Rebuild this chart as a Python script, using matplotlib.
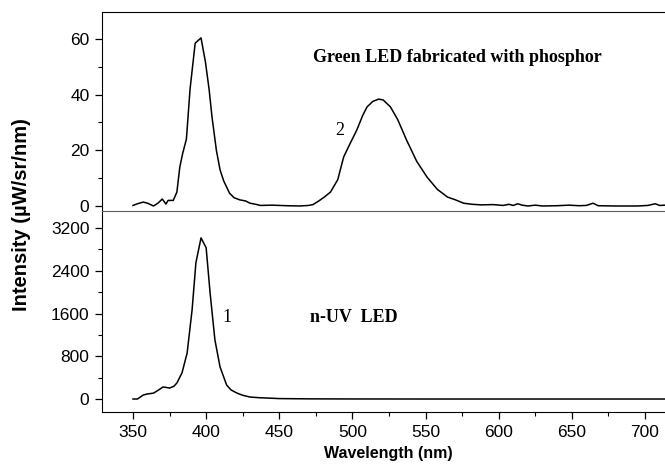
# -*- coding: utf-8 -*-
# Espectros de emissão: LED verde com fósforo (acima) e LED n-UV (abaixo)
import numpy as np
from matplotlib import pyplot as plt
from matplotlib.ticker import MultipleLocator

# Curva 2: LED verde fabricado com fósforo (uW/sr/nm)
lam_verde = [350, 353, 357, 360, 364, 367, 370, 372.5, 374, 377.5, 380, 382, 384, 386.5,
             389, 392.5, 396.5, 399.5, 402, 404, 407, 409.5, 412, 416, 419, 423, 427,
             430, 434, 437, 445, 455, 464, 470, 473, 477, 481, 485, 490, 494, 498, 503,
             507, 510, 514, 518, 521, 526, 531, 537, 544, 551, 558, 565, 570, 576, 582,
             588, 596, 603, 607, 610, 613, 616, 620, 625, 630, 640, 648, 655, 660, 664.5,
             668, 680, 695, 702, 707, 710, 714]
int_verde = [0.2, 0.8, 1.4, 1.0, 0.0, 1.0, 2.5, 0.7, 2.0, 2.0, 5.0, 14.0, 19.0, 24.0,
             42.0, 58.5, 60.4, 51.8, 42.0, 32.0, 20.0, 13.0, 9.0, 4.6, 3.0, 2.2, 1.8,
             1.0, 0.6, 0.2, 0.3, 0.1, 0.0, 0.2, 0.5, 1.8, 3.3, 5.0, 9.5, 17.6, 22.0, 27.3,
             32.5, 35.6, 37.6, 38.4, 38.1, 35.6, 31.0, 23.7, 16.0, 10.4, 6.0, 3.2, 2.3, 1.0, 0.6,
             0.4, 0.5, 0.2, 0.6, 0.2, 0.8, 0.3, 0.0, 0.3, 0.0, 0.1, 0.3, 0.1, 0.2, 1.0,
             0.1, 0.0, 0.0, 0.2, 0.8, 0.2, 0.3]

# Curva 1: LED n-UV (uW/sr/nm)
lam_uv = [350, 353, 357, 360, 364, 367, 370.5, 373, 375, 378, 380, 383.5, 387, 390.4,
          393, 396.5, 400, 402.7, 406, 409.5, 414, 417, 421, 425, 430, 436, 441, 450,
          470, 500, 550, 600, 650, 714]
int_uv = [0, 0, 75, 95, 110, 160, 225, 215, 205, 240, 300, 490, 860, 1670,
          2550, 3015, 2830, 1985, 1105, 600, 262, 170, 112, 70, 37, 25, 19, 8,
          3, 1, 0, 0, 0, 0]

fig = plt.figure(figsize=(6.65, 4.73), dpi=100)
fs_tick = 12.5

# Quadro inferior
q2 = fig.add_axes([102/665, 1 - 412/473, 1 - 102/665, 201/473])
q2.patch.set_visible(False)
q2.plot(lam_uv, int_uv, color="black", lw=1.1)
q2.set_xlim(328.8, 713.7)
q2.set_ylim(-243, 3518)
q2.yaxis.set_major_locator(MultipleLocator(800))
q2.yaxis.set_minor_locator(MultipleLocator(400))
q2.xaxis.set_major_locator(MultipleLocator(50))
q2.xaxis.set_minor_locator(MultipleLocator(25))
q2.spines["right"].set_visible(False)
q2.spines["top"].set_visible(False)
q2.tick_params(which="major", direction="out", length=5, width=0.9,
               labelsize=fs_tick, pad=4)
q2.tick_params(which="minor", direction="out", length=3, width=0.8)
q2.text(501, 1517, "n-UV  LED", family="Liberation Serif", weight="bold",
        fontsize=13, ha="center", va="center")
q2.text(414.3, 1517, "1", family="Liberation Serif", fontsize=13, ha="center", va="center")

# Quadro superior
q1 = fig.add_axes([102/665, 1 - 211/473, 1 - 102/665, 199/473])
q1.patch.set_visible(False)
q1.plot(lam_verde, int_verde, color="black", lw=1.1)
q1.set_xlim(328.8, 713.7)
q1.set_ylim(-1.8, 69.7)
q1.yaxis.set_major_locator(MultipleLocator(20))
q1.yaxis.set_minor_locator(MultipleLocator(10))
q1.set_xticks([])
q1.spines["right"].set_visible(False)
q1.spines["bottom"].set_color("#5a5a5a")
q1.tick_params(axis="y", which="major", direction="out", length=5, width=0.9,
               labelsize=fs_tick, pad=4)
q1.tick_params(axis="y", which="minor", direction="out", length=3, width=0.8)
q1.text(571.6, 53.2, "Green LED fabricated with phosphor", family="Liberation Serif",
        weight="bold", fontsize=13, ha="center", va="center")
q1.text(491.6, 27.3, "2", family="Liberation Serif", fontsize=13, ha="center", va="center")

for q in (q1, q2):
    for t in q.get_xticklabels() + q.get_yticklabels():
        t.set_family("Liberation Sans")

fig.text(388/665, 1 - 453/473, "Wavelength (nm)", family="Liberation Sans",
         weight="bold", fontsize=11.5, ha="center", va="center")
fig.text(22/665, 1 - 215/473, "Intensity (\u00b5W/sr/nm)", family="Liberation Sans",
         weight="bold", fontsize=14.5, ha="center", va="center", rotation=90)

fig.savefig("out.png", dpi=100)
